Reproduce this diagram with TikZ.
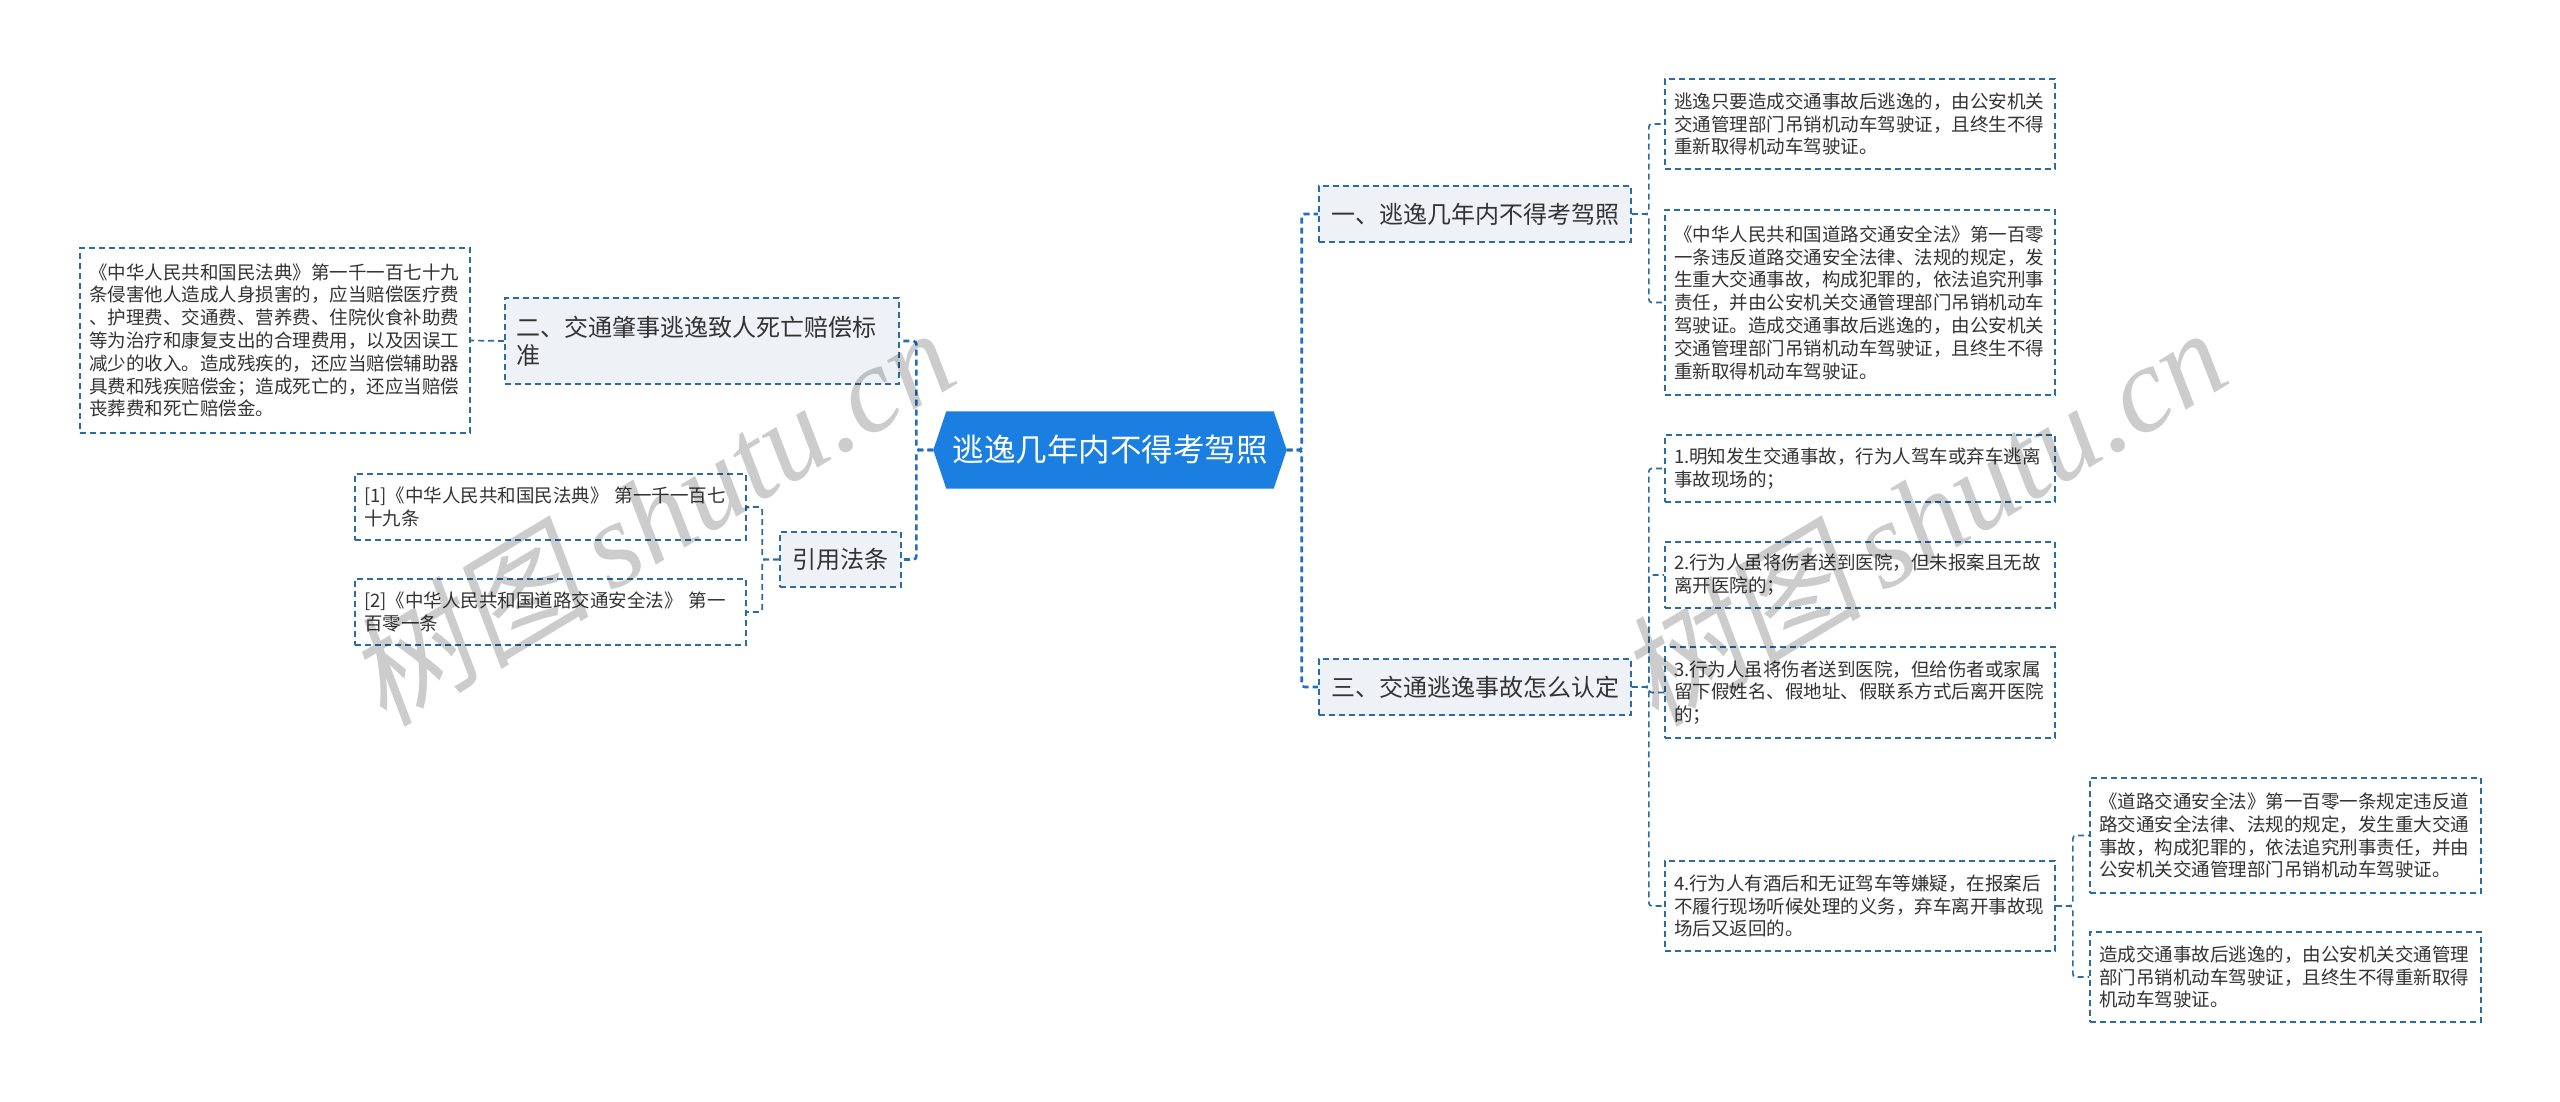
\documentclass[tikz,border=0pt]{standalone}
\usepackage{fontspec}
\setmainfont{Noto Sans CJK SC}
\newfontfamily\wmcjk[FakeSlant=0.18]{Noto Sans CJK SC}
\newfontfamily\wmlat{Liberation Serif}
\usetikzlibrary{calc}
\pgfdeclarelayer{bg}
\pgfdeclarelayer{paper}
\pgfsetlayers{paper,bg,main}
\definecolor{rootblue}{HTML}{1A7FE0}
\definecolor{bordc}{HTML}{2B6CA3}
\definecolor{connc}{HTML}{1F6EC4}
\definecolor{lvlfill}{HTML}{EEF2F6}
\tikzset{
  boxbase/.style={draw=bordc, line width=1.7pt, dash pattern=on 6pt off 4pt, inner ysep=0pt},
  leaf/.style={boxbase, fill=white, align=left, inner xsep=9pt, text width=372pt, minimum width=390pt,
    font=\fontsize{18.5}{22.8}\selectfont, text=black!80},
  lvl/.style={boxbase, fill=lvlfill, align=center, inner xsep=0pt, font=\fontsize{24}{28}\selectfont, text=black!80},
  rootnode/.style={inner sep=0pt, minimum width=353pt, minimum height=77pt, text=white,
    font=\fontsize{31.5}{34}\selectfont},
  conn0/.style={draw=connc, line width=2.6pt, dash pattern=on 6pt off 4pt, rounded corners=3pt},
  conn/.style={draw=bordc, line width=1.7pt, dash pattern=on 6pt off 4pt, rounded corners=3pt},
  wm/.style={rotate=31, text=black, opacity=0.2, inner sep=0pt}
}
\begin{document}
\begin{tikzpicture}[x=1pt, y=-1pt]
\useasboundingbox (0,0) rectangle (2560,1102);
\begin{pgfonlayer}{paper}
\fill[white] (0,0) rectangle (2560,1102);
\end{pgfonlayer}

% root
\node[rootnode] (root) at (1110,450) {逃逸几年内不得考驾照};
\begin{pgfonlayer}{bg}
\fill[rootblue] (root.west) -- ([xshift=13pt]root.north west) -- ([xshift=-13pt]root.north east)
  -- (root.east) -- ([xshift=-13pt]root.south east) -- ([xshift=13pt]root.south west) -- cycle;
\end{pgfonlayer}

% left side
\node[lvl, align=left, inner xsep=11pt, text width=372pt, minimum width=394pt, minimum height=86pt] (n2) at (702,341)
  {二、交通肇事逃逸致人死亡赔偿标\\准};
\node[leaf, minimum height=185pt] (l1) at (275,340.5)
  {《中华人民共和国民法典》第一千一百七十九\\条侵害他人造成人身损害的，应当赔偿医疗费\\、护理费、交通费、营养费、住院伙食补助费\\等为治疗和康复支出的合理费用，以及因误工\\减少的收入。造成残疾的，还应当赔偿辅助器\\具费和残疾赔偿金；造成死亡的，还应当赔偿\\丧葬费和死亡赔偿金。};
\node[lvl, minimum width=121pt, minimum height=55pt] (yin) at (840.5,559.5) {引用法条};
\node[leaf, text width=373pt, minimum width=391pt, minimum height=66pt] (c1) at (550.5,507)
  {[1]《中华人民共和国民法典》~第一千一百七\\十九条};
\node[leaf, text width=373pt, minimum width=391pt, minimum height=66pt] (c2) at (550.5,612)
  {[2]《中华人民共和国道路交通安全法》~第一\\百零一条};

% right side
\node[lvl, minimum width=312pt, minimum height=56pt] (n1) at (1475,214) {一、逃逸几年内不得考驾照};
\node[leaf, minimum height=90pt] (a1) at (1860,124)
  {逃逸只要造成交通事故后逃逸的，由公安机关\\交通管理部门吊销机动车驾驶证，且终生不得\\重新取得机动车驾驶证。};
\node[leaf, minimum height=185pt] (a2) at (1860,302.5)
  {《中华人民共和国道路交通安全法》第一百零\\一条违反道路交通安全法律、法规的规定，发\\生重大交通事故，构成犯罪的，依法追究刑事\\责任，并由公安机关交通管理部门吊销机动车\\驾驶证。造成交通事故后逃逸的，由公安机关\\交通管理部门吊销机动车驾驶证，且终生不得\\重新取得机动车驾驶证。};
\node[lvl, minimum width=312pt, minimum height=56pt] (n3) at (1475,687) {三、交通逃逸事故怎么认定};
\node[leaf, minimum height=67pt] (b1) at (1860,468.5)
  {1.明知发生交通事故，行为人驾车或弃车逃离\\事故现场的；};
\node[leaf, minimum height=66pt] (b2) at (1860,575)
  {2.行为人虽将伤者送到医院，但未报案且无故\\离开医院的；};
\node[leaf, minimum height=91pt] (b3) at (1860,692.5)
  {3.行为人虽将伤者送到医院，但给伤者或家属\\留下假姓名、假地址、假联系方式后离开医院\\的；};
\node[leaf, minimum height=90pt] (b4) at (1860,906)
  {4.行为人有酒后和无证驾车等嫌疑，在报案后\\不履行现场听候处理的义务，弃车离开事故现\\场后又返回的。};
\node[leaf, text width=373pt, minimum width=391pt, minimum height=115pt] (d1) at (2285.5,835.5)
  {《道路交通安全法》第一百零一条规定违反道\\路交通安全法律、法规的规定，发生重大交通\\事故，构成犯罪的，依法追究刑事责任，并由\\公安机关交通管理部门吊销机动车驾驶证。};
\node[leaf, text width=373pt, minimum width=391pt, minimum height=90pt] (d2) at (2285.5,977)
  {造成交通事故后逃逸的，由公安机关交通管理\\部门吊销机动车驾驶证，且终生不得重新取得\\机动车驾驶证。};

% connectors
\begin{pgfonlayer}{bg}
\draw[conn0] (root.west) -- ++(-17,0) |- (n2.east);
\draw[conn0] (root.west) -- ++(-17,0) |- (yin.east);
\draw[conn0] (root.east) -- ++(15,0) |- (n1.west);
\draw[conn0] (root.east) -- ++(15,0) |- (n3.west);
\draw[conn] (n2.west) -- (l1.east);
\draw[conn] (yin.west) -- ++(-17,0) |- (c1.east);
\draw[conn] (yin.west) -- ++(-17,0) |- (c2.east);
\draw[conn] (n1.east) -- ++(17,0) |- (a1.west);
\draw[conn] (n1.east) -- ++(17,0) |- (a2.west);
\draw[conn] (n3.east) -- ++(17,0) |- (b1.west);
\draw[conn] (n3.east) -- ++(17,0) |- (b2.west);
\draw[conn] (n3.east) -- ++(17,0) |- (b3.west);
\draw[conn] (n3.east) -- ++(17,0) |- (b4.west);
\draw[conn] (b4.east) -- ++(17,0) |- (d1.west);
\draw[conn] (b4.east) -- ++(17,0) |- (d2.west);
\end{pgfonlayer}

% watermarks
\node[wm] (wm1) at (650,515) {\fontsize{122}{122}\selectfont\wmcjk 树图\,\wmlat\itshape shutu.cn};
\node[wm] (wm2) at (1922,515) {\fontsize{122}{122}\selectfont\wmcjk 树图\,\wmlat\itshape shutu.cn};
\end{tikzpicture}
\end{document}
